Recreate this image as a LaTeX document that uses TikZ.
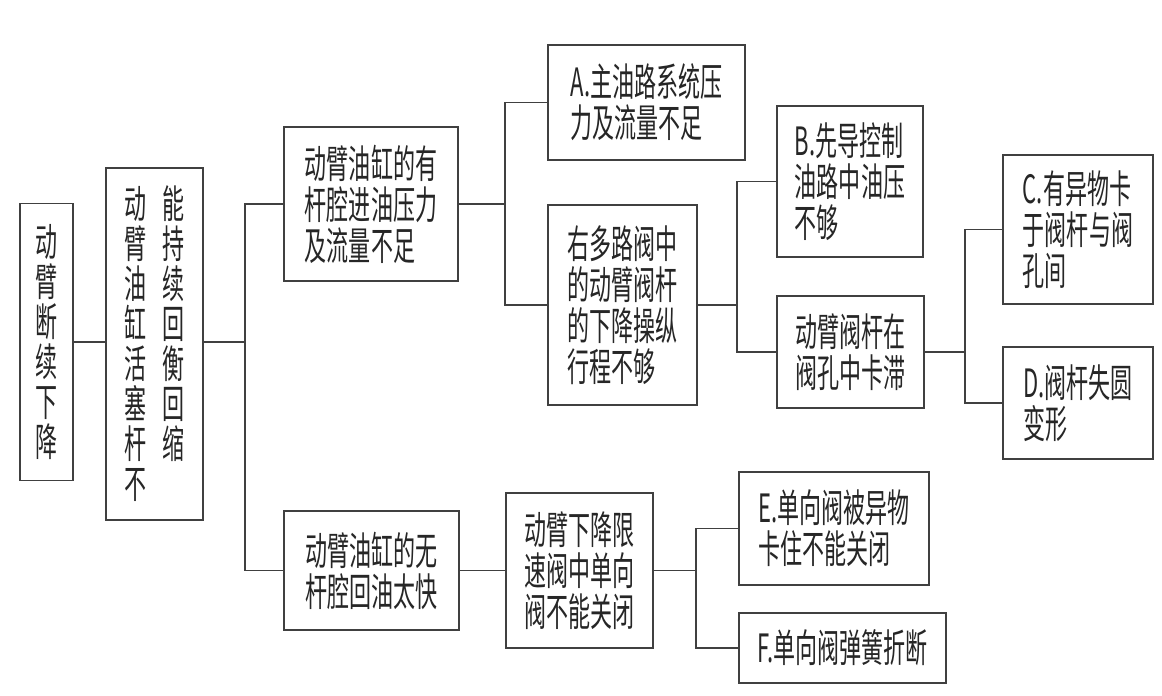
\documentclass[tikz,border=0pt]{standalone}
\usepackage{fontspec}
\newfontfamily\cjk[FakeStretch=0.565]{Noto Sans CJK SC}
\usepackage{tikz}

\begin{document}
\begin{tikzpicture}[x=1pt,y=-1pt,font=\cjk\fontsize{39}{41}\selectfont,
  box/.style 2 args={draw=black!75,line width=1.1pt,rectangle,minimum width=#1pt,minimum height=#2pt,align=left,inner sep=0pt,text=black!85},
  col/.style={font=\cjk\fontsize{39}{40}\selectfont,align=center},
  link/.style={draw=black!75,line width=1.1pt}]
\useasboundingbox (0,0) rectangle (1162,696);
\node[box={53}{277},col] (fall) at (46.5,342) {动\\臂\\断\\续\\下\\降};
\node[box={97}{352},col] (piston) at (154.5,344) {%
   \parbox[t]{22pt}{\centering 动\\臂\\油\\缸\\活\\塞\\杆\\不}\hspace{16pt}%
   \parbox[t]{22pt}{\centering 能\\持\\续\\回\\衡\\回\\缩}};
\node[box={174}{154}] (rodside) at (371,204) {动臂油缸的有\\杆腔进油压力\\及流量不足};
\node[box={197}{115}] (mainpump) at (646.5,102.5) {A.主油路系统压\\力及流量不足};
\node[box={149}{200}] (spool) at (622.5,305) {右多路阀中\\的动臂阀杆\\的下降操纵\\行程不够};
\node[box={146}{151}] (pilot) at (850,181.5) {B.先导控制\\油路中油压\\不够};
\node[box={147}{112}] (stuck) at (850.5,352) {动臂阀杆在\\阀孔中卡滞};
\node[box={150}{149}] (dirt) at (1078,229.5) {C.有异物卡\\于阀杆与阀\\孔间};
\node[box={150}{112}] (bent) at (1078,403) {D.阀杆失圆\\变形};
\node[box={175}{119}] (headside) at (371.5,570.5) {动臂油缸的无\\杆腔回油太快};
\node[box={147}{155}] (limiter) at (579.5,570.5) {动臂下降限\\速阀中单向\\阀不能关闭};
\node[box={190}{113}] (check) at (834,528.5) {E.单向阀被异物\\卡住不能关闭};
\node[box={207}{70}] (spring) at (842.5,648) {F.单向阀弹簧折断};
\coordinate (j1) at (245,342);
\coordinate (j2) at (505,204);
\coordinate (j3) at (737,305);
\coordinate (j4) at (965,352);
\coordinate (j5) at (696,570.5);
\draw[link] (fall.east) -- (fall.east -| piston.west);
\draw[link] (headside.east) -- (limiter.west);
\draw[link] (fall.east -| piston.east) -- (j1);
\foreach \from/\j in %
{rodside/j2,spool/j3,stuck/j4,limiter/j5} {
   \draw[link] (\from.east) -- (\j);
}
\foreach \j/\to in %
{j1/rodside,j1/headside,j2/mainpump,j2/spool,j3/pilot,j3/stuck,j4/dirt,j4/bent,j5/check,j5/spring} {
   \draw[link] (\j) |- (\to.west);
}
\end{tikzpicture}
\end{document}
